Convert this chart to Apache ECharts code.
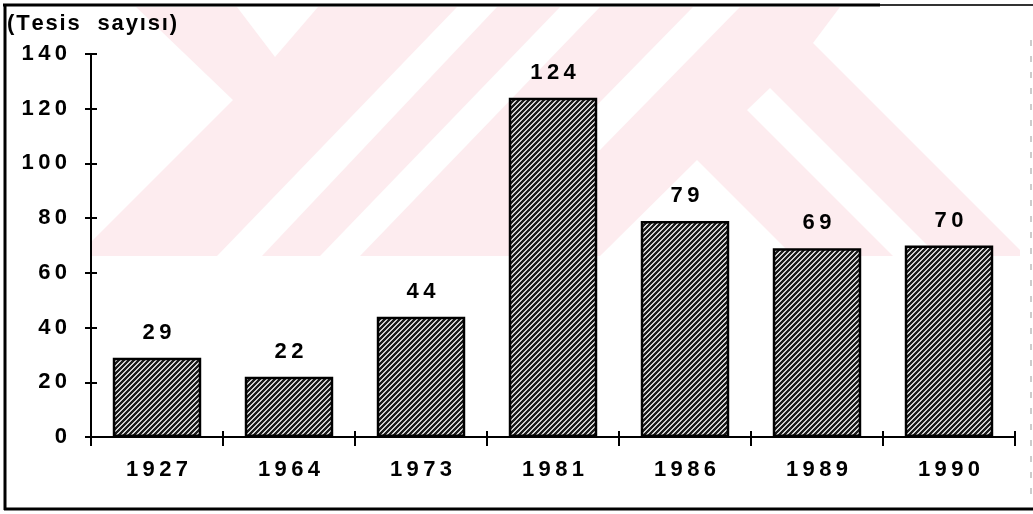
<!DOCTYPE html>
<html>
<head>
<meta charset="utf-8">
<script src="https://cdn.jsdelivr.net/npm/echarts@6/dist/echarts.min.js"></script>
<style>
html,body{margin:0;padding:0;background:#fff;}
#chart{width:1033px;height:514px;}
</style>
</head>
<body>
<div id="chart"></div>
<script>
const categories = ['1927', '1964', '1973', '1981', '1986', '1989', '1990'];
const values = [29, 22, 44, 124, 79, 69, 70];
const yTickLabels = ['0', '20', '40', '60', '80', '100', '120', '140'];
const yAxisTitle = '(Tesis  sayısı)';

const FONT = '"Liberation Sans", Arial, Helvetica, sans-serif';
const spaced = s => String(s).split('').join('\u2009');

// hatch pattern for bars
function makeHatch() {
  const n = 5;
  const c = document.createElement('canvas');
  c.width = n; c.height = n;
  const ctx = c.getContext('2d');
  const img = ctx.createImageData(n, n);
  for (let y = 0; y < n; y++) {
    for (let x = 0; x < n; x++) {
      const k = (x + y) % n;
      const light = (k === 0 || k === 1);
      const v = light ? 210 : 28;
      const i = (y * n + x) * 4;
      img.data[i] = v; img.data[i + 1] = v; img.data[i + 2] = v; img.data[i + 3] = 255;
    }
  }
  ctx.putImageData(img, 0, 0);
  return c;
}
const hatch = makeHatch();

const PINK = '#fdecef';
function poly(points, fill) {
  return { type: 'polygon', z: -10, silent: true, shape: { points: points }, style: { fill: fill } };
}

const chart = echarts.init(document.getElementById('chart'), null, { renderer: 'canvas' });

const option = {
  backgroundColor: '#ffffff',
  animation: false,
  grid: { left: 91, right: 18, top: 54, bottom: 77, containLabel: false },
  xAxis: [
    {
      type: 'category', data: categories, position: 'bottom',
      axisLine: { show: true, lineStyle: { color: '#000', width: 2 } },
      axisTick: { show: true, inside: false, length: 9, lineStyle: { color: '#000', width: 2 } },
      axisLabel: { color: '#000', fontFamily: FONT, fontWeight: 'bold', fontSize: 22, margin: 22,
        formatter: v => spaced(v) },
      splitLine: { show: false }
    },
    {
      type: 'category', data: categories, position: 'bottom', offset: 0,
      axisLine: { show: false },
      axisTick: { show: true, inside: true, length: 6, lineStyle: { color: '#000', width: 2 } },
      axisLabel: { show: false },
      splitLine: { show: false }
    }
  ],
  yAxis: [
    {
      type: 'value', min: 0, max: 140, interval: 20, position: 'left',
      axisLine: { show: true, lineStyle: { color: '#000', width: 2 } },
      axisTick: { show: true, inside: false, length: 6, lineStyle: { color: '#000', width: 2 } },
      axisLabel: { color: '#000', fontFamily: FONT, fontWeight: 'bold', fontSize: 22, margin: 24,
        formatter: (v, i) => spaced(yTickLabels[i] !== undefined ? yTickLabels[i] : v) },
      splitLine: { show: false }
    },
    {
      type: 'value', min: 0, max: 140, interval: 20, position: 'left', offset: 0,
      axisLine: { show: false },
      axisTick: { show: true, inside: true, length: 6, lineStyle: { color: '#000', width: 2 } },
      axisLabel: { show: false },
      splitLine: { show: false }
    }
  ],
  series: [{
    type: 'bar',
    data: values,
    xAxisIndex: 0, yAxisIndex: 0,
    barCategoryGap: '33%',
    itemStyle: { color: { image: hatch, repeat: 'repeat' }, borderColor: '#000', borderWidth: 2.5 },
    label: { show: true, position: 'top', distance: 14, color: '#000', fontFamily: FONT,
      fontWeight: 'bold', fontSize: 22, formatter: p => spaced(p.value) }
  }],
  graphic: [
    // watermark (light pink)
    poly([[136,7],[237,7],[275,57],[318,7],[457,7],[217,256],[90,256],[90,243],[233,100]], PINK),
    poly([[497,7],[560,7],[320,256],[262,256]], PINK),
    poly([[600,7],[840,7],[813,43],[1020,250],[1020,256],[360,256]], PINK),
    poly([[693,7],[740,7],[600,150],[553,150]], '#ffffff'),
    poly([[697,160],[600,256],[793,256]], '#ffffff'),
    poly([[770,88],[747,110],[893,256],[938,256]], '#ffffff'),
    // title
    { type: 'text', left: 7, top: 13, z: 50,
      style: { text: yAxisTitle.split('').join('\u200A'), fill: '#000',
        font: 'bold 22px ' + FONT } },
    // frame
    { type: 'line', z: 60, silent: true, shape: { x1: 3, y1: 5, x2: 880, y2: 5 }, style: { stroke: '#000', lineWidth: 3 } },
    { type: 'line', z: 60, silent: true, shape: { x1: 880, y1: 5, x2: 1033, y2: 5 }, style: { stroke: '#333', lineWidth: 2 } },
    { type: 'line', z: 60, silent: true, shape: { x1: 5, y1: 4, x2: 5, y2: 510 }, style: { stroke: '#000', lineWidth: 3 } },
    { type: 'line', z: 60, silent: true, shape: { x1: 4, y1: 509, x2: 1033, y2: 509 }, style: { stroke: '#000', lineWidth: 3 } },
    { type: 'line', z: 60, silent: true, shape: { x1: 1031, y1: 40, x2: 1031, y2: 500 }, style: { stroke: '#999', lineWidth: 1, lineDash: [6, 10] } }
  ]
};
chart.setOption(option);
</script>
</body>
</html>
